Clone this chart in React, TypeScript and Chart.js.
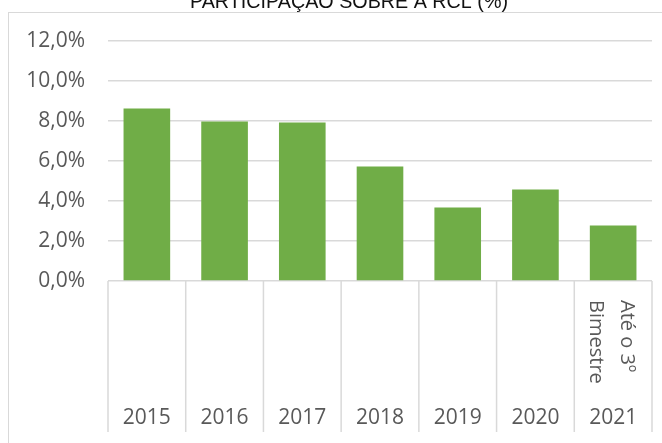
import React, { useEffect, useRef } from "react";
import { Chart, registerables } from "chart.js";

Chart.register(...registerables);

const title = "PARTICIPAÇÃO SOBRE A RCL (%)";
const categories = ["2015", "2016", "2017", "2018", "2019", "2020", "2021"];
const values = [8.62, 7.97, 7.93, 5.72, 3.68, 4.58, 2.78];
const subLabels: string[][] = [[], [], [], [], [], [], ["Até o 3º", "Bimestre"]];
const yMin = 0;
const yMax = 12;
const yStep = 2;

const GRID = "#d9d9d9";
const TEXT = "#595959";
const FONT = '"Open Sans", "Noto Sans", sans-serif';

const decorPlugin = {
  id: "decor",
  beforeDraw(chart: any) {
    const ctx = chart.ctx;
    ctx.save();
    ctx.strokeStyle = GRID;
    ctx.lineWidth = 1;
    ctx.strokeRect(8.5, 12.5, 720, 500);
    // title (cut off at top like the reference)
    ctx.font = '20px "Liberation Sans", Arial, sans-serif';
    const w = ctx.measureText(title).width;
    ctx.translate(349, 7.5);
    ctx.scale(318 / w, 1);
    ctx.fillStyle = "#111";
    ctx.textAlign = "center";
    ctx.textBaseline = "alphabetic";
    ctx.fillText(title, 0, 0);
    ctx.restore();
  },
  afterDraw(chart: any) {
    const ctx = chart.ctx;
    const xs = chart.scales.x;
    const area = chart.chartArea;
    const n = categories.length;
    const half = (xs.getPixelForValue(1) - xs.getPixelForValue(0)) / 2;
    ctx.save();
    ctx.strokeStyle = GRID;
    ctx.lineWidth = 1.5;
    for (let i = 0; i <= n; i++) {
      const x = i < n ? xs.getPixelForValue(i) - half : xs.getPixelForValue(n - 1) + half;
      ctx.beginPath();
      ctx.moveTo(x, area.bottom);
      ctx.lineTo(x, xs.bottom);
      ctx.stroke();
    }
    ctx.fillStyle = TEXT;
    ctx.font = "21px " + FONT;
    ctx.textAlign = "center";
    ctx.textBaseline = "middle";
    for (let i = 0; i < n; i++) {
      const x = xs.getPixelForValue(i);
      ctx.fillText(categories[i], x, area.bottom + 137);
      const sub = subLabels[i];
      if (sub.length) {
        ctx.save();
        ctx.translate(x - 2, area.bottom + 19);
        ctx.rotate(Math.PI / 2);
        ctx.textAlign = "left";
        ctx.font = "20px " + FONT;
        const gap = 31;
        sub.forEach((s, k) => {
          ctx.fillText(s, 0, (k - (sub.length - 1) / 2) * gap);
        });
        ctx.restore();
      }
    }
    ctx.restore();
  },
};

export default function App() {
  const ref = useRef<HTMLCanvasElement>(null);
  useEffect(() => {
    if (!ref.current) return;
    const chart = new Chart(ref.current, {
      type: "bar",
      data: {
        labels: categories,
        datasets: [
          {
            data: values,
            backgroundColor: "#70AD47",
            borderWidth: 0,
            categoryPercentage: 1,
            barPercentage: 0.6,
          },
        ],
      },
      options: {
        responsive: false,
        animation: false,
        layout: { padding: { top: 41, right: 10, bottom: 11, left: 0 } },
        plugins: { legend: { display: false }, title: { display: false }, tooltip: { enabled: false } },
        scales: {
          x: {
            grid: { display: false },
            border: { display: false },
            ticks: { display: false },
            afterFit(scale: any) {
              scale.height = 151;
            },
          },
          y: {
            min: yMin,
            max: yMax,
            ticks: {
              stepSize: yStep,
              padding: 23,
              color: TEXT,
              font: { family: FONT, size: 21 },
              callback: (v: any) => Number(v).toFixed(1).replace(".", ",") + "%",
            },
            grid: { color: GRID, lineWidth: 1.5, drawTicks: false },
            border: { display: false },
            afterFit(scale: any) {
              scale.width = 108;
            },
          },
        },
      },
      plugins: [decorPlugin],
    });
    return () => chart.destroy();
  }, []);
  return (
    <div style={{ position: "absolute", left: 0, top: 0, width: 662, height: 443 }}>
      <canvas ref={ref} width={662} height={443} />
    </div>
  );
}
